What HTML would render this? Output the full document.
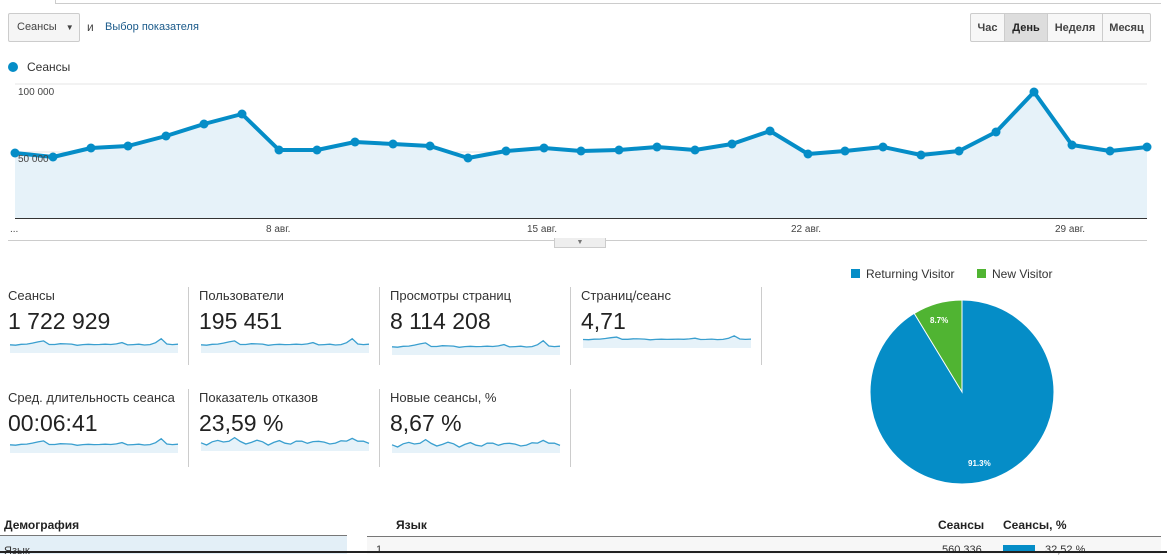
<!DOCTYPE html>
<html><head><meta charset="utf-8"><style>
body{margin:0;width:1167px;height:553px;overflow:hidden;background:#fff;font-family:"Liberation Sans",sans-serif;position:relative}
.a{position:absolute}
.lbl{font-size:13px;color:#333}
.val{font-size:23px;color:#222}
.btn{position:absolute;top:13px;height:29px;line-height:29px;font-size:11px;font-weight:bold;color:#444;text-align:center;border:1px solid #ccc;background:#f7f7f7;box-sizing:border-box}
</style></head><body>
<div class="a" style="left:55px;top:0;width:1105px;height:3px;border-bottom:1px solid #ccc;border-left:1px solid #ccc"></div>
<div class="a" style="left:8px;top:13px;width:72px;height:29px;border:1px solid #ccc;border-radius:2px;background:#f5f5f5;box-sizing:border-box;font-size:11px;color:#444;line-height:27px;padding-left:8px">Сеансы <span style="font-size:8px;margin-left:6px">▼</span></div>
<div class="a" style="left:87px;top:20px;font-size:12px;color:#444">и</div>
<div class="a" style="left:105px;top:21px;font-size:11px;color:#1a5a8a">Выбор показателя</div>
<div class="btn" style="left:970px;width:35px;border-radius:2px 0 0 2px">Час</div>
<div class="btn" style="left:1004px;width:44px;background:#ddd;color:#222">День</div>
<div class="btn" style="left:1047px;width:56px">Неделя</div>
<div class="btn" style="left:1102px;width:49px;border-radius:0 2px 2px 0">Месяц</div>
<div class="a" style="left:8px;top:62px;width:10px;height:10px;border-radius:50%;background:#058dc7"></div>
<div class="a" style="left:27px;top:60px;font-size:12px;color:#333">Сеансы</div>
<svg class="a" style="left:0;top:0" width="1167" height="260" id="main"></svg>
<div class="a" style="left:18px;top:87px;font-size:10px;color:#444">100 000</div>
<div class="a" style="left:18px;top:154px;font-size:10px;color:#444">50 000</div>
<div class="a" style="left:10px;top:224px;font-size:10px;color:#444">...</div>
<div class="a" style="left:266px;top:224px;font-size:10px;color:#444">8 авг.</div>
<div class="a" style="left:527px;top:224px;font-size:10px;color:#444">15 авг.</div>
<div class="a" style="left:791px;top:224px;font-size:10px;color:#444">22 авг.</div>
<div class="a" style="left:1055px;top:224px;font-size:10px;color:#444">29 авг.</div>
<div class="a" style="left:554px;top:238px;width:50px;height:9px;background:#eee;border:1px solid #ccc;border-top:none;font-size:7px;color:#777;text-align:center;line-height:9px">▼</div>

<div class="a lbl" style="left:8px;top:288px">Сеансы</div><div class="a val" style="left:8px;top:308px">1 722 929</div>
<div class="a lbl" style="left:199px;top:288px">Пользователи</div><div class="a val" style="left:199px;top:308px">195 451</div>
<div class="a lbl" style="left:390px;top:288px">Просмотры страниц</div><div class="a val" style="left:390px;top:308px">8 114 208</div>
<div class="a lbl" style="left:581px;top:288px">Страниц/сеанс</div><div class="a val" style="left:581px;top:308px">4,71</div>
<div class="a lbl" style="left:8px;top:390px">Сред. длительность сеанса</div><div class="a val" style="left:8px;top:410px">00:06:41</div>
<div class="a lbl" style="left:199px;top:390px">Показатель отказов</div><div class="a val" style="left:199px;top:410px">23,59 %</div>
<div class="a lbl" style="left:390px;top:390px">Новые сеансы, %</div><div class="a val" style="left:390px;top:410px">8,67 %</div>
<div class="a" style="left:188px;top:287px;width:1px;height:78px;background:#ccc"></div>
<div class="a" style="left:379px;top:287px;width:1px;height:78px;background:#ccc"></div>
<div class="a" style="left:570px;top:287px;width:1px;height:78px;background:#ccc"></div>
<div class="a" style="left:761px;top:287px;width:1px;height:78px;background:#ccc"></div>
<div class="a" style="left:188px;top:389px;width:1px;height:78px;background:#ccc"></div>
<div class="a" style="left:379px;top:389px;width:1px;height:78px;background:#ccc"></div>
<div class="a" style="left:570px;top:389px;width:1px;height:78px;background:#ccc"></div>
<svg class="a" style="left:0;top:0" width="800" height="480" id="sp"></svg>

<div class="a" style="left:851px;top:269px;width:9px;height:9px;background:#058dc7"></div>
<div class="a" style="left:866px;top:267px;font-size:12px;color:#333">Returning Visitor</div>
<div class="a" style="left:977px;top:269px;width:9px;height:9px;background:#50b432"></div>
<div class="a" style="left:992px;top:267px;font-size:12px;color:#333">New Visitor</div>
<svg class="a" style="left:860px;top:290px" width="210" height="200">
<circle cx="102" cy="102" r="92" fill="#058dc7" stroke="#fff" stroke-width="1"/>
<path d="M102 102 L102 10 A92 92 0 0 0 54.2 23.4 Z" fill="#50b432" stroke="#fff" stroke-width="1"/>
<text x="70" y="33" font-size="8" fill="#fff" font-weight="bold" font-family="Liberation Sans">8.7%</text>
<text x="108" y="176" font-size="8" fill="#fff" font-weight="bold" font-family="Liberation Sans">91.3%</text>
</svg>

<div class="a" style="left:4px;top:518px;font-size:12px;font-weight:bold;color:#222">Демография</div>
<div class="a" style="left:0;top:535px;width:347px;height:18px;background:#e3eff7;border-top:1px solid #777"></div>
<div class="a" style="left:4px;top:545px;font-size:11px;color:#333">Язык</div>
<div class="a" style="left:396px;top:518px;font-size:12px;font-weight:bold;color:#222">Язык</div>
<div class="a" style="left:938px;top:518px;font-size:12px;font-weight:bold;color:#222">Сеансы</div>
<div class="a" style="left:1003px;top:518px;font-size:12px;font-weight:bold;color:#222">Сеансы, %</div>
<div class="a" style="left:367px;top:536px;width:794px;height:17px;background:#f7f7f7;border-top:1px solid #777"></div>
<div class="a" style="left:376px;top:544px;font-size:11px;color:#333">1</div>
<div class="a" style="left:942px;top:544px;font-size:11px;color:#333">560 336</div>
<div class="a" style="left:1003px;top:545px;width:32px;height:8px;background:#058dc7"></div>
<div class="a" style="left:1045px;top:544px;font-size:11px;color:#333">32,52 %</div>
<div class="a" style="left:0;top:551px;width:1167px;height:2px;background:#222"></div>
<script>
var P=[[15,153],[53,157],[91,148],[128,146],[166,136],[204,124],[242,114],[279,150],[317,150],[355,142],[393,144],[430,146],[468,158],[506,151],[544,148],[581,151],[619,150],[657,147],[695,150],[732,144],[770,131],[808,154],[845,151],[883,147],[921,155],[959,151],[996,132],[1034,92],[1072,145],[1110,151],[1147,147]];
var s='';
s+='<line x1="15" y1="84" x2="1147" y2="84" stroke="#e5e5e5"/><line x1="15" y1="152" x2="1147" y2="152" stroke="#e5e5e5"/>';
var pts=P.map(p=>p.join(',')).join(' ');
s+='<polygon points="15,218 '+pts+' 1147,218" fill="#e6f2f9"/>';
s+='<line x1="15" y1="218.5" x2="1147" y2="218.5" stroke="#333"/>';
s+='<line x1="8" y1="240.5" x2="1147" y2="240.5" stroke="#ccc"/>';
s+='<polyline points="'+pts+'" fill="none" stroke="#058dc7" stroke-width="4" stroke-linejoin="round"/>';
P.forEach(p=>{s+='<circle cx="'+p[0]+'" cy="'+p[1]+'" r="4.5" fill="#058dc7"/>'});
document.getElementById('main').innerHTML=s;
var B=[[10,344],[201,344],[392,346],[583,339],[10,444],[201,442],[392,444]];
var t='';
B.forEach((b,k)=>{var q=P.map((p,i)=>{var x=b[0]+i*168/30;var y=b[1]+ (p[1]-145)*(k==3?0.06:0.1)+((k>=5)?Math.sin(i*1.7)*1.8:0);return x.toFixed(1)+','+y.toFixed(1)}).join(' ');
t+='<polygon points="'+b[0]+','+(b[1]+9)+' '+q+' '+(b[0]+168)+','+(b[1]+9)+'" fill="#e6f2f9"/>';
t+='<polyline points="'+q+'" fill="none" stroke="#3a9fcf" stroke-width="1.3"/>';});
document.getElementById('sp').innerHTML=t;
</script>
</body></html>
